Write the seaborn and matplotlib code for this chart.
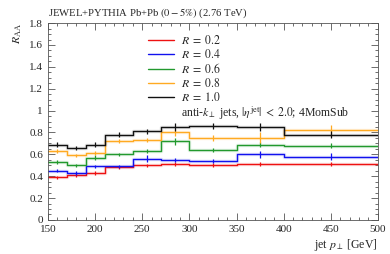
import numpy as np
import pandas as pd
import seaborn as sns
import matplotlib.pyplot as plt
from matplotlib.ticker import MultipleLocator

# bin edges and R_AA values
edges = [150, 170, 190, 210, 240, 270, 300, 350, 400, 500]
radii = ["0.2", "0.4", "0.6", "0.8", "1.0"]
raa_02 = [0.39, 0.41, 0.43, 0.48, 0.50, 0.51, 0.50, 0.51, 0.51]
raa_04 = [0.45, 0.43, 0.49, 0.49, 0.56, 0.55, 0.54, 0.60, 0.58]
raa_06 = [0.53, 0.50, 0.57, 0.60, 0.63, 0.72, 0.64, 0.69, 0.68]
raa_08 = [0.63, 0.59, 0.61, 0.72, 0.73, 0.80, 0.75, 0.75, 0.82]
raa_10 = [0.69, 0.66, 0.69, 0.78, 0.81, 0.85, 0.86, 0.85, 0.78]
err_02 = [0.015, 0.015, 0.015, 0.015, 0.015, 0.02, 0.02, 0.02, 0.02]
err_04 = [0.015, 0.015, 0.015, 0.015, 0.03, 0.02, 0.02, 0.03, 0.03]
err_06 = [0.015, 0.015, 0.02, 0.015, 0.02, 0.03, 0.02, 0.02, 0.02]
err_08 = [0.02, 0.015, 0.02, 0.02, 0.02, 0.03, 0.03, 0.05, 0.05]
err_10 = [0.02, 0.02, 0.02, 0.02, 0.025, 0.04, 0.03, 0.04, 0.03]

values = [raa_02, raa_04, raa_06, raa_08, raa_10]
errors = [err_02, err_04, err_06, err_08, err_10]
colors = ["#ee1111", "#1111ee", "#22992e", "#ffaa22", "#111111"]

sns.set_style("ticks")
plt.rcParams["font.family"] = ["Liberation Serif", "DejaVu Serif"]
plt.rcParams["mathtext.fontset"] = "stix"
plt.rcParams["font.size"] = 8.5

fig, ax = plt.subplots(figsize=(3.9, 2.54), dpi=100)
fig.subplots_adjust(left=0.123, right=0.969, top=0.909, bottom=0.134)

centers = [(a + b) / 2 for a, b in zip(edges[:-1], edges[1:])]
for r, v, e, c in zip(radii, values, errors, colors):
    df = pd.DataFrame({"pt": edges, "raa": v + [v[-1]]})
    sns.lineplot(data=df, x="pt", y="raa", drawstyle="steps-post", color=c,
                 lw=2.5, alpha=0.12, ax=ax, legend=False)
    sns.lineplot(data=df, x="pt", y="raa", drawstyle="steps-post", color=c,
                 lw=1.0, ax=ax, label=f"$R\\;=\\;{r}$")
    ax.errorbar(centers, v, yerr=e, fmt="none", ecolor=c, elinewidth=0.9)

ax.set_xlim(150, 500)
ax.set_ylim(0, 1.8)
ax.xaxis.set_major_locator(MultipleLocator(50))
ax.xaxis.set_minor_locator(MultipleLocator(10))
ax.yaxis.set_major_locator(MultipleLocator(0.2))
ax.yaxis.set_minor_locator(MultipleLocator(0.05))
ax.set_yticks([0, 0.2, 0.4, 0.6, 0.8, 1, 1.2, 1.4, 1.6, 1.8],
              ["0", "0.2", "0.4", "0.6", "0.8", "1", "1.2", "1.4", "1.6", "1.8"])
ax.tick_params(which="both", direction="in", top=True, right=True, width=0.6,
               color="#555555", labelsize=8)
ax.tick_params(which="major", length=5)
ax.tick_params(which="minor", length=2.5)
for s in ax.spines.values():
    s.set_linewidth(0.6)
    s.set_color("#555555")

ax.set_xlabel(r"jet $p_\perp$ [GeV]", loc="right", labelpad=2)
ax.set_ylabel(r"$R_{\rm AA}$", loc="top", labelpad=4)
ax.set_title(r"JEWEL+PYTHIA Pb+Pb $(0-5\%)$ (2.76 TeV)", loc="left", pad=5,
             fontsize=7.7)

ax.legend(loc="upper left", bbox_to_anchor=(0.27, 1.0), frameon=False,
          handlelength=2.2, handletextpad=0.6, labelspacing=0.1, fontsize=8.5)
ax.text(0.403, 0.54, r"anti-$k_\perp$ jets, $|\eta^{\rm jet}|\;<\;2.0$; 4MomSub",
        transform=ax.transAxes, fontsize=8.5, va="center")

plt.savefig("out.png", dpi=100)
